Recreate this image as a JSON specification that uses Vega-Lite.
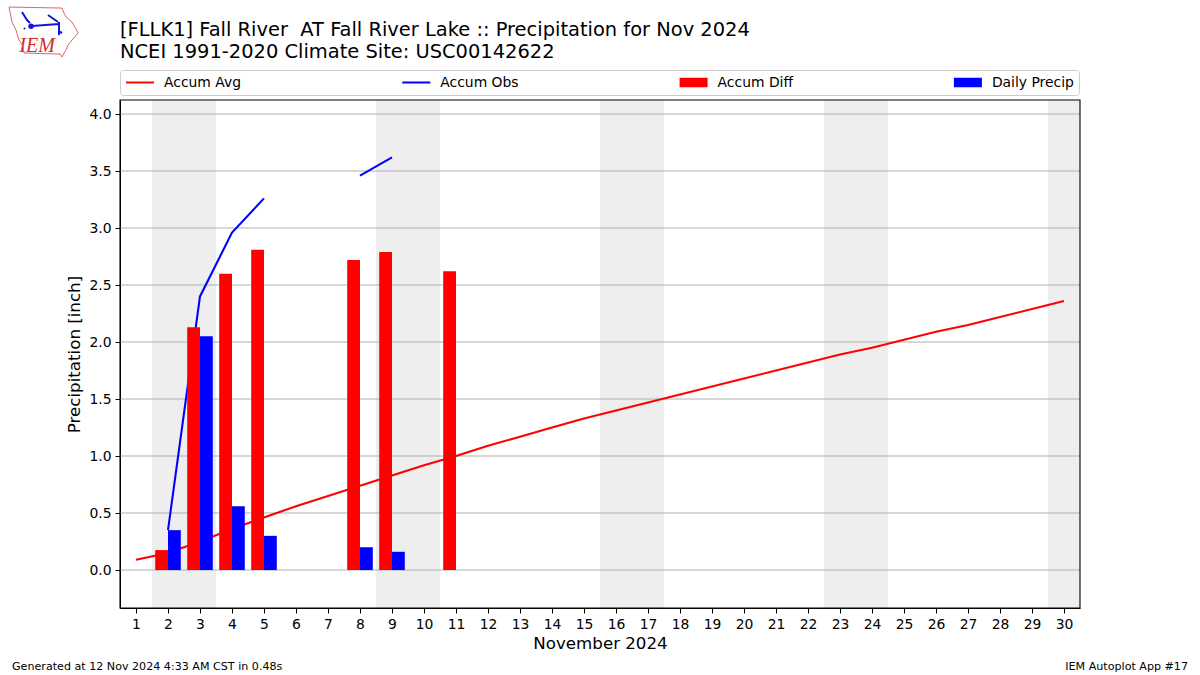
{
"$schema":"https://vega.github.io/schema/vega-lite/v6.json",
"width":960,"height":508,
"autosize":{"type":"none"},
"padding":{"left":120,"top":100,"right":120,"bottom":67},
"background":"white",
"config":{"font":"DejaVu Sans","view":{"stroke":null}},
"title":{"text":["[FLLK1] Fall River\u00a0 AT Fall River Lake :: Precipitation for Nov 2024","NCEI 1991-2020 Climate Site: USC00142622"],"anchor":"start","frame":"group","fontSize":19.45,"fontWeight":"normal","font":"DejaVu Sans","lineHeight":22,"offset":-57,"color":"black"},
"datasets":{
"series":[
{"day":1,"series":"Accum Avg","value":0.09},{"day":2,"series":"Accum Avg","value":0.15},{"day":3,"series":"Accum Avg","value":0.25},{"day":4,"series":"Accum Avg","value":0.36},{"day":5,"series":"Accum Avg","value":0.46},{"day":6,"series":"Accum Avg","value":0.56},{"day":7,"series":"Accum Avg","value":0.65},{"day":8,"series":"Accum Avg","value":0.74},{"day":9,"series":"Accum Avg","value":0.83},{"day":10,"series":"Accum Avg","value":0.92},{"day":11,"series":"Accum Avg","value":1.0},{"day":12,"series":"Accum Avg","value":1.09},{"day":13,"series":"Accum Avg","value":1.17},{"day":14,"series":"Accum Avg","value":1.25},{"day":15,"series":"Accum Avg","value":1.33},{"day":16,"series":"Accum Avg","value":1.4},{"day":17,"series":"Accum Avg","value":1.47},{"day":18,"series":"Accum Avg","value":1.54},{"day":19,"series":"Accum Avg","value":1.61},{"day":20,"series":"Accum Avg","value":1.68},{"day":21,"series":"Accum Avg","value":1.75},{"day":22,"series":"Accum Avg","value":1.82},{"day":23,"series":"Accum Avg","value":1.89},{"day":24,"series":"Accum Avg","value":1.95},{"day":25,"series":"Accum Avg","value":2.02},{"day":26,"series":"Accum Avg","value":2.09},{"day":27,"series":"Accum Avg","value":2.15},{"day":28,"series":"Accum Avg","value":2.22},{"day":29,"series":"Accum Avg","value":2.29},{"day":30,"series":"Accum Avg","value":2.36},
{"day":2,"series":"Accum Obs","value":0.35},{"day":3,"series":"Accum Obs","value":2.4},{"day":4,"series":"Accum Obs","value":2.96},{"day":5,"series":"Accum Obs","value":3.26},{"day":6,"series":"Accum Obs","value":null},{"day":7,"series":"Accum Obs","value":null},{"day":8,"series":"Accum Obs","value":3.46},{"day":9,"series":"Accum Obs","value":3.62},
{"day":2,"series":"Accum Diff","value":0.175},{"day":3,"series":"Accum Diff","value":2.13},{"day":4,"series":"Accum Diff","value":2.6},{"day":5,"series":"Accum Diff","value":2.81},{"day":8,"series":"Accum Diff","value":2.72},{"day":9,"series":"Accum Diff","value":2.79},{"day":11,"series":"Accum Diff","value":2.62},
{"day":2,"series":"Daily Precip","value":0.35},{"day":3,"series":"Daily Precip","value":2.05},{"day":4,"series":"Daily Precip","value":0.56},{"day":5,"series":"Daily Precip","value":0.3},{"day":8,"series":"Daily Precip","value":0.2},{"day":9,"series":"Daily Precip","value":0.16}
]},
"data":{"name":"series"},
"encoding":{
"x":{"type":"quantitative","scale":{"domain":[0.5,30.5],"nice":false,"zero":false,"padding":0},"axis":{"values":[1,2,3,4,5,6,7,8,9,10,11,12,13,14,15,16,17,18,19,20,21,22,23,24,25,26,27,28,29,30],"format":"d","title":"November 2024","grid":false,"labelFontSize":13.9,"labelColor":"black","tickColor":"black","domainColor":"black","tickSize":5,"labelPadding":4,"labelOverlap":false,"labelFlush":false,"titleFontSize":16.67,"titleFontWeight":"normal","titleColor":"black","titlePadding":5}},
"y":{"type":"quantitative","scale":{"domain":[-0.333,4.123],"nice":false,"zero":false},"axis":{"values":[0,0.5,1,1.5,2,2.5,3,3.5,4],"format":".1f","title":"Precipitation [inch]","grid":false,"labelFontSize":13.9,"labelColor":"black","tickColor":"black","domainColor":"black","tickSize":5,"labelPadding":4,"labelOverlap":false,"titleFontSize":16.67,"titleFontWeight":"normal","titleColor":"black","titlePadding":5}}
},
"layer":[
{"data":{"values":[{"start":1.5,"end":3.5},{"start":8.5,"end":10.5},{"start":15.5,"end":17.5},{"start":22.5,"end":24.5},{"start":29.5,"end":30.5}]},
 "mark":{"type":"rect","fill":"#eeeeee"},
 "encoding":{"x":{"field":"start"},"x2":{"field":"end"}}},
{"data":{"values":[{"v":0},{"v":0.5},{"v":1},{"v":1.5},{"v":2},{"v":2.5},{"v":3},{"v":3.5},{"v":4}]},
 "mark":{"type":"rule","color":"#b0b0b0","strokeWidth":1.1},
 "encoding":{"y":{"field":"v"}}},
{"transform":[{"filter":"datum.series==='Accum Avg'"}],
 "mark":{"type":"line","strokeWidth":2.08,"color":"#ff0000"},
 "encoding":{"x":{"field":"day"},"y":{"field":"value"}}},
{"transform":[{"filter":"datum.series==='Accum Obs'"}],
 "mark":{"type":"line","strokeWidth":2.08,"color":"#0000ff"},
 "encoding":{"x":{"field":"day"},"y":{"field":"value"}}},
{"transform":[{"filter":"datum.series==='Accum Diff'"}],
 "mark":{"type":"bar","width":12.8,"xOffset":-6.4,"color":"#ff0000"},
 "encoding":{"x":{"field":"day"},"y":{"field":"value"}}},
{"transform":[{"filter":"datum.series==='Daily Precip'"}],
 "mark":{"type":"bar","width":12.8,"xOffset":6.4,"color":"#0000ff"},
 "encoding":{"x":{"field":"day"},"y":{"field":"value"}}},
{"data":{"values":[{"s":"Accum Avg"},{"s":"Accum Obs"},{"s":"Accum Diff"},{"s":"Daily Precip"}]},
 "mark":{"type":"point","filled":true,"size":0,"opacity":1},
 "encoding":{
  "x":{"datum":5},"y":{"datum":1},
  "color":{"field":"s","type":"nominal","scale":{"domain":["Accum Avg","Accum Obs","Accum Diff","Daily Precip"],"range":["#ff0000","#0000ff","#ff0000","#0000ff"]},
   "legend":{"orient":"none","legendX":0,"legendY":-30,"title":null,"direction":"horizontal","columns":4,"columnPadding":159.3,"symbolSize":784,"symbolOpacity":1,"labelFontSize":13.9,"labelColor":"black","labelOffset":9,"clipHeight":15,"strokeColor":"#cccccc","fillColor":"white","cornerRadius":3,"padding":5}},
  "shape":{"field":"s","type":"nominal","scale":{"domain":["Accum Avg","Accum Obs","Accum Diff","Daily Precip"],"range":["M-1,-0.07H1V0.07H-1Z","M-1,-0.07H1V0.07H-1Z","M-1,-0.34H1V0.34H-1Z","M-1,-0.34H1V0.34H-1Z"]}}
 }},
{"data":{"values":[{"a":1}]},
 "mark":{"type":"rect","fillOpacity":0,"stroke":"black","strokeWidth":1.1},
 "encoding":{"x":{"datum":0.5},"x2":{"datum":30.5},"y":{"datum":-0.333},"y2":{"datum":4.123}}},
{"data":{"values":[{"t":"Generated at 12 Nov 2024 4:33 AM CST in 0.48s"}]},
 "mark":{"type":"text","align":"left","baseline":"middle","fontSize":11.12,"color":"black","clip":false},
 "encoding":{"x":{"datum":-2.875},"y":{"datum":-0.85},"text":{"field":"t"}}},
{"data":{"values":[{"t":"IEM Autoplot App #17"}]},
 "mark":{"type":"text","align":"right","baseline":"middle","fontSize":11.12,"color":"black","clip":false},
 "encoding":{"x":{"datum":33.875},"y":{"datum":-0.85},"text":{"field":"t"}}},
{"data":{"values":[{"t":"IEM"}]},
 "mark":{"type":"text","align":"center","baseline":"middle","font":"Liberation Serif","fontStyle":"italic","fontSize":20,"color":"#d42a2a"},
 "encoding":{"x":{"datum":-2.09},"y":{"datum":4.6},"text":{"field":"t"}}},
{"data":{"values":[{"part":"outline"}]},
 "mark":{"type":"point","size":4,"filled":false,"stroke":"#dd6666","strokeWidth":1,"opacity":1,"shape":"M-35,-25L18,-24L20,-19L22,-15L28,-10L31,-5L34,1L28,8L24,13L22,18L20,21L18,25L16,22L-20,21L-21,14L-25,8L-28,-2L-32,-10Z"},
 "encoding":{"x":{"datum":-1.875},"y":{"datum":4.719}}},
{"data":{"values":[{"part":"icon"}]},
 "mark":{"type":"point","size":4,"filled":false,"stroke":"#1515dd","strokeWidth":2,"opacity":1,"shape":"M-22,-20L-17,-12L-14,-9M-12,-6L15,-8M15,-10L15,3M15,-1L18,1M4,-17L14,-10M-20,-4L-19,-3"},
 "encoding":{"x":{"datum":-1.875},"y":{"datum":4.719}}},
{"data":{"values":[{"part":"hub"}]},
 "mark":{"type":"point","size":30,"filled":true,"color":"#1515dd","opacity":1},
 "encoding":{"x":{"datum":-2.28},"y":{"datum":4.77}}}
]
}
